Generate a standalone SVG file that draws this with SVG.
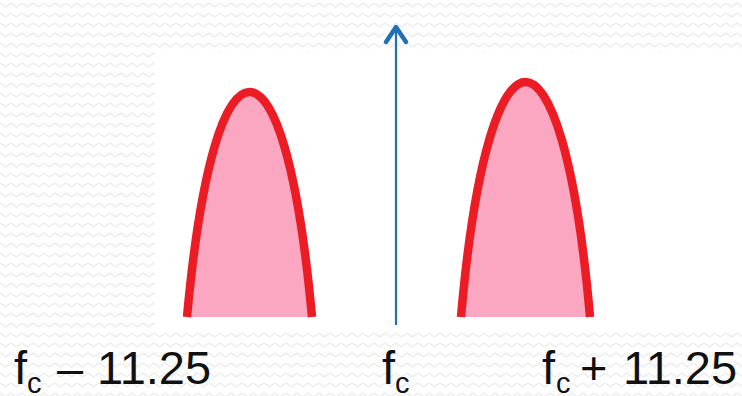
<svg xmlns="http://www.w3.org/2000/svg" width="742" height="396" viewBox="0 0 742 396">
  <style>
    .lobe { fill: #fba7c1; stroke: #ec1c24; stroke-width: 8.5; stroke-linecap: butt; stroke-linejoin: round; }
    .lbl { font-family: "Liberation Sans", Arial, sans-serif; font-size: 47px; fill: #111111; }
    .sub { font-size: 29px; }
    .axis { stroke: #1f70b5; stroke-width: 2.2; fill: none; }
    .head { fill: none; stroke: #1f70b5; stroke-width: 4.5; stroke-linecap: round; stroke-linejoin: round; }
  </style>
  <defs>
    <pattern id="zig" patternUnits="userSpaceOnUse" width="11" height="10">
      <polyline points="0,3 5.5,7 11,3" fill="none" stroke="#efefef" stroke-width="1.6"/>
    </pattern>
  </defs>
  <rect x="0" y="0" width="742" height="396" fill="#ffffff"/>
  <rect x="0" y="0" width="742" height="396" fill="url(#zig)"/>
  <rect x="155" y="53" width="587" height="275" fill="#ffffff"/>

  <g id="lobe-lower">
    <path class="lobe" d="M187,317 C201,165 225,92 249.5,92 C274,92 298,165 312,317"/>
  </g>
  <g id="lobe-upper">
    <path class="lobe" d="M461,317 C475,157 501,82 525.5,82 C550,82 576,157 590,317"/>
  </g>

  <g id="connectors">
    <line class="axis" x1="396" y1="325" x2="396" y2="27"/>
    <polyline class="head" points="386,42 396,27 406,42"/>
  </g>

  <g id="label-lower">
    <text class="lbl"><tspan x="14" y="384">f</tspan><tspan class="sub" x="27" y="393">c</tspan><tspan x="57" y="384">–</tspan><tspan x="97" y="384">11.25</tspan></text>
  </g>
  <g id="label-carrier">
    <text class="lbl"><tspan x="382" y="384">f</tspan><tspan class="sub" x="395" y="393">c</tspan></text>
  </g>
  <g id="label-upper">
    <text class="lbl"><tspan x="542" y="384">f</tspan><tspan class="sub" x="556" y="393">c</tspan><tspan x="580" y="384">+</tspan><tspan x="623" y="384">11.25</tspan></text>
  </g>
</svg>
